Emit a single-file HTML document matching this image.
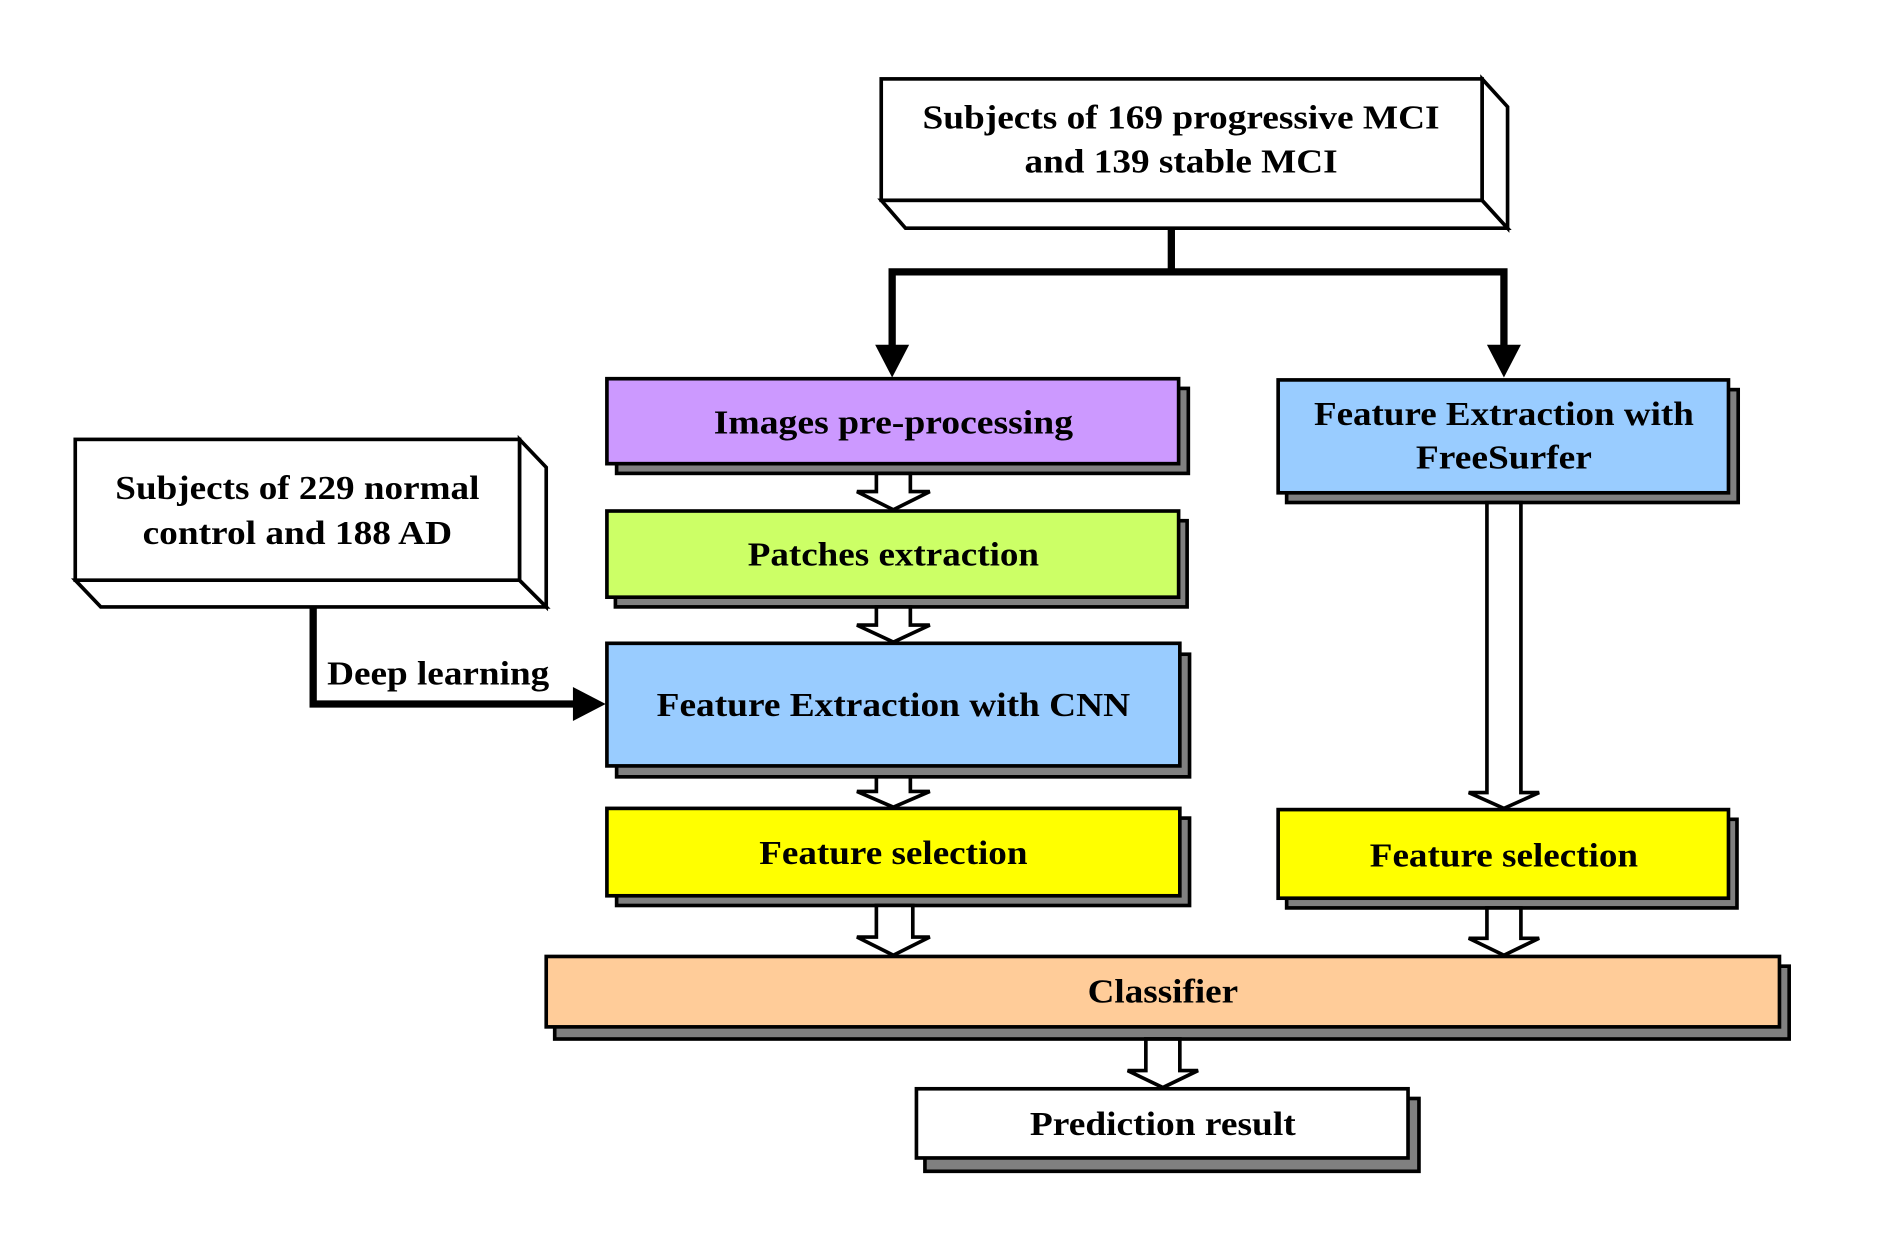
<!DOCTYPE html>
<html><head><meta charset="utf-8"><style>html,body{margin:0;padding:0;background:#fff;}svg{display:block}</style></head>
<body>
<svg width="1904" height="1253" viewBox="0 0 1568.6 1032.3" preserveAspectRatio="none" xmlns="http://www.w3.org/2000/svg">
<g font-family="'Liberation Serif', serif" font-weight="bold" font-size="28" text-anchor="middle" fill="#000">
<g stroke="#000" stroke-width="3" stroke-linejoin="miter" fill="#fff">
<polygon points="726,165 746,188 1242,188 1221,165"/>
<polygon points="1221,65 1242,88 1242,188 1221,165"/>
<rect x="726" y="65" width="495" height="100"/>
<polygon points="62,478 83,500 450,500 428,478"/>
<polygon points="428,362 450,385 450,500 428,478"/>
<rect x="62" y="362" width="366" height="116"/>
</g>
<text x="973" y="106" textLength="426" lengthAdjust="spacingAndGlyphs">Subjects of 169 progressive MCI</text>
<text x="973" y="142" textLength="258" lengthAdjust="spacingAndGlyphs">and 139 stable MCI</text>
<text x="245" y="411" textLength="300" lengthAdjust="spacingAndGlyphs">Subjects of 229 normal</text>
<text x="245" y="448" textLength="255" lengthAdjust="spacingAndGlyphs">control and 188 AD</text>

<g stroke="#000" stroke-width="6" fill="none">
<path d="M965,188 V224 H735 V288"/>
<path d="M965,224 H1239 V288"/>
<path d="M258,500 V580 H476"/>
</g>
<polygon points="721,284 749,284 735,311" fill="#000"/>
<polygon points="1225,284 1253,284 1239,311" fill="#000"/>
<polygon points="472,566 472,594 499,580" fill="#000"/>
<text x="361" y="564" textLength="183" lengthAdjust="spacingAndGlyphs">Deep learning</text>

<g stroke="#000" stroke-width="3">
<rect x="508" y="320" width="471" height="70" fill="#808080"/>
<rect x="500" y="312" width="471" height="70" fill="#cc99ff"/>
<rect x="507" y="429" width="471" height="71" fill="#808080"/>
<rect x="500" y="421" width="471" height="71" fill="#ccff66"/>
<rect x="508" y="539" width="472" height="101" fill="#808080"/>
<rect x="500" y="530" width="472" height="101" fill="#99ccff"/>
<rect x="508" y="674" width="472" height="72" fill="#808080"/>
<rect x="500" y="666" width="472" height="72" fill="#ffff00"/>
<rect x="1060" y="321" width="372" height="93" fill="#808080"/>
<rect x="1053" y="313" width="371" height="93" fill="#99ccff"/>
<rect x="1060" y="675" width="371" height="73" fill="#808080"/>
<rect x="1053" y="667" width="371" height="73" fill="#ffff00"/>
<rect x="457" y="796" width="1017" height="60" fill="#808080"/>
<rect x="450" y="788" width="1016" height="58" fill="#ffcc99"/>
<rect x="762" y="905" width="407" height="60" fill="#808080"/>
<rect x="755" y="897" width="405" height="57" fill="#fff"/>
</g>
<text x="736" y="357" textLength="296" lengthAdjust="spacingAndGlyphs">Images pre-processing</text>
<text x="736" y="466" textLength="240" lengthAdjust="spacingAndGlyphs">Patches extraction</text>
<text x="736" y="590" textLength="390" lengthAdjust="spacingAndGlyphs">Feature Extraction with CNN</text>
<text x="736" y="712" textLength="221" lengthAdjust="spacingAndGlyphs">Feature selection</text>
<text x="1239" y="350" textLength="313" lengthAdjust="spacingAndGlyphs">Feature Extraction with</text>
<text x="1239" y="386" textLength="145" lengthAdjust="spacingAndGlyphs">FreeSurfer</text>
<text x="1239" y="714" textLength="221" lengthAdjust="spacingAndGlyphs">Feature selection</text>
<text x="958" y="826" textLength="124" lengthAdjust="spacingAndGlyphs">Classifier</text>
<text x="958" y="935" textLength="219" lengthAdjust="spacingAndGlyphs">Prediction result</text>

<g fill="#fff" stroke="#000" stroke-width="3" stroke-linejoin="miter">
<polygon points="722,390 750,390 750,405 766,405 736,420 706,405 722,405"/>
<polygon points="722,500 750,500 750,515 766,515 736,529 706,515 722,515"/>
<polygon points="722,640 750,640 750,652 766,652 736,665 706,652 722,652"/>
<polygon points="722,746 752,746 752,772 766,772 736,787 706,772 722,772"/>
<polygon points="1225,414 1253,414 1253,653 1268,653 1239,666 1210,653 1225,653"/>
<polygon points="1225,748 1253,748 1253,773 1268,773 1239,787 1210,773 1225,773"/>
<polygon points="944,856 972,856 972,882 987,882 958,896 929,882 944,882"/>
</g>
</g>
</svg>
</body></html>
